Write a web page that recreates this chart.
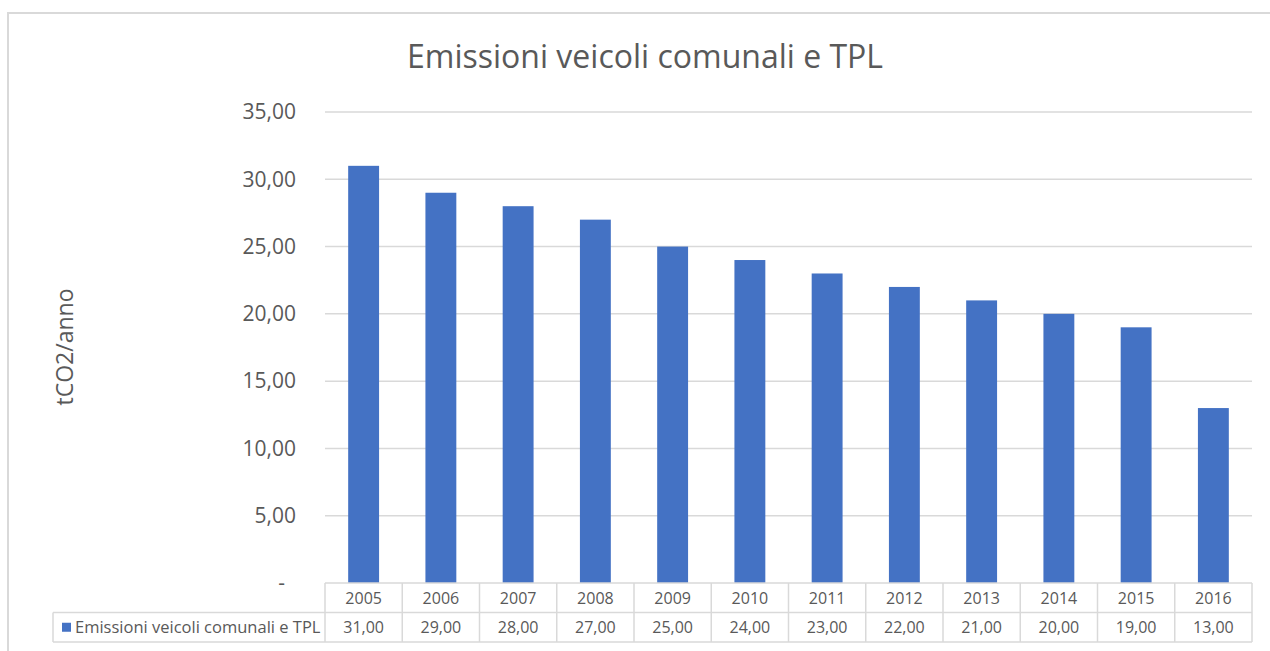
<!DOCTYPE html>
<html>
<head>
<meta charset="utf-8">
<script src="https://cdn.jsdelivr.net/npm/d3@7"></script>
<style>
  body { margin: 0; background: #fff; }
  svg { display: block; font-family: "Open Sans", Lato, sans-serif; }
</style>
</head>
<body>
<div id="wrapper"></div>
<script>
const years = ["2005", "2006", "2007", "2008", "2009", "2010", "2011", "2012", "2013", "2014", "2015", "2016"];
const emissions = [31, 29, 28, 27, 25, 24, 23, 22, 21, 20, 19, 13];
const yTicks = [0, 5, 10, 15, 20, 25, 30, 35];
const seriesName = "Emissioni veicoli comunali e TPL";
const chartTitle = "Emissioni veicoli comunali e TPL";
const yTitle = "tCO2/anno";

function drawChart() {
  const width = 1270;
  const height = 651;
  const dimensions = {
    margin: { top: 112, left: 325, right: 18, bottom: 68 },
  };
  const plotBottom = height - dimensions.margin.bottom; // 583
  const plotRight = width - dimensions.margin.right; // 1252
  const rowH = 29.5;
  const textColor = "#595959";
  const gridColor = "#d9d9d9";
  const barColor = "#4472c4";

  const svg = d3
    .select("#wrapper")
    .append("svg")
    .attr("width", width)
    .attr("height", height);

  // outer chart border
  svg
    .append("rect")
    .attr("x", 8)
    .attr("y", 13)
    .attr("width", 1280)
    .attr("height", 700)
    .attr("fill", "none")
    .attr("stroke", gridColor)
    .attr("stroke-width", 2);

  const xScale = d3
    .scaleBand()
    .domain(years)
    .range([dimensions.margin.left, plotRight]);

  const yScale = d3
    .scaleLinear()
    .domain([0, 35])
    .range([plotBottom, dimensions.margin.top]);

  // gridlines
  svg
    .append("g")
    .selectAll("line")
    .data(yTicks.filter((d) => d > 0))
    .join("line")
    .attr("x1", dimensions.margin.left)
    .attr("x2", plotRight)
    .attr("y1", (d) => yScale(d))
    .attr("y2", (d) => yScale(d))
    .attr("stroke", gridColor)
    .attr("stroke-width", 1.5);

  // y axis labels
  const fmt = (d) => (d === 0 ? "-" : d3.format(".2f")(d).replace(".", ","));
  svg
    .append("g")
    .selectAll("text")
    .data(yTicks)
    .join("text")
    .attr("x", (d) => (d === 0 ? 285 : 296))
    .attr("y", (d) => yScale(d))
    .attr("dy", "0.35em")
    .attr("text-anchor", "end")
    .attr("fill", textColor)
    .style("font-size", "21px")
    .text(fmt);

  // bars
  const barW = xScale.bandwidth() * 0.4;
  svg
    .append("g")
    .selectAll("rect")
    .data(emissions)
    .join("rect")
    .attr("x", (d, i) => xScale(years[i]) + (xScale.bandwidth() - barW) / 2)
    .attr("y", (d) => yScale(d))
    .attr("width", barW)
    .attr("height", (d) => plotBottom - yScale(d))
    .attr("fill", barColor);

  // data table
  const table = svg.append("g");
  const legendLeft = 53;
  const tLines = [
    [dimensions.margin.left, plotBottom, plotRight, plotBottom],
    [legendLeft, plotBottom + rowH, plotRight, plotBottom + rowH],
    [legendLeft, plotBottom + rowH * 2, plotRight, plotBottom + rowH * 2],
    [legendLeft, plotBottom + rowH, legendLeft, plotBottom + rowH * 2],
  ];
  years.forEach((y) => {
    tLines.push([xScale(y), plotBottom, xScale(y), plotBottom + rowH * 2]);
  });
  tLines.push([plotRight, plotBottom, plotRight, plotBottom + rowH * 2]);
  table
    .selectAll("line")
    .data(tLines)
    .join("line")
    .attr("x1", (d) => d[0])
    .attr("y1", (d) => d[1])
    .attr("x2", (d) => d[2])
    .attr("y2", (d) => d[3])
    .attr("stroke", gridColor)
    .attr("stroke-width", 1.5);

  table
    .append("g")
    .selectAll("text")
    .data(years)
    .join("text")
    .attr("x", (d) => xScale(d) + xScale.bandwidth() / 2)
    .attr("y", plotBottom + rowH / 2)
    .attr("dy", "0.36em")
    .attr("text-anchor", "middle")
    .attr("fill", textColor)
    .style("font-size", "16px")
    .text((d) => d);

  table
    .append("g")
    .selectAll("text")
    .data(emissions)
    .join("text")
    .attr("x", (d, i) => xScale(years[i]) + xScale.bandwidth() / 2)
    .attr("y", plotBottom + rowH * 1.5)
    .attr("dy", "0.36em")
    .attr("text-anchor", "middle")
    .attr("fill", textColor)
    .style("font-size", "16px")
    .text((d) => d3.format(".2f")(d).replace(".", ","));

  // legend key inside the table
  table
    .append("rect")
    .attr("x", 62)
    .attr("y", plotBottom + rowH * 1.5 - 4.5)
    .attr("width", 9)
    .attr("height", 9)
    .attr("fill", barColor);
  table
    .append("text")
    .attr("x", 75)
    .attr("y", plotBottom + rowH * 1.5)
    .attr("dy", "0.36em")
    .attr("fill", textColor)
    .style("font-size", "16.5px")
    .text(seriesName);

  // title
  svg
    .append("text")
    .attr("x", 645)
    .attr("y", 57)
    .attr("dy", "0.35em")
    .attr("text-anchor", "middle")
    .attr("fill", textColor)
    .style("font-size", "32px")
    .text(chartTitle);

  // y axis title
  svg
    .append("text")
    .attr("transform", "translate(65,347) rotate(-90)")
    .attr("dy", "0.35em")
    .attr("text-anchor", "middle")
    .attr("fill", textColor)
    .style("font-size", "23px")
    .text(yTitle);
}

drawChart();
</script>
</body>
</html>
